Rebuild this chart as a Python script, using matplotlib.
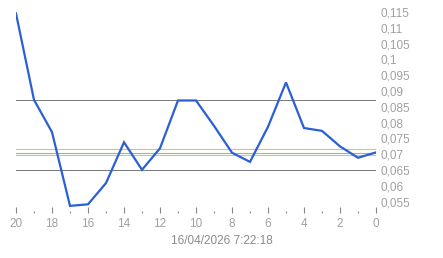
import numpy as np
import matplotlib
matplotlib.use("Agg")
import matplotlib.pyplot as plt
from matplotlib.ticker import MultipleLocator, FuncFormatter


# periods back (20 -> 0) and the price
periods = list(range(20, -1, -1))
values = [0.1145, 0.0872, 0.0770, 0.0537, 0.0542, 0.0609, 0.0738, 0.0651,
          0.0719, 0.0870, 0.0870, 0.0790, 0.0705, 0.0676, 0.0787, 0.0927,
          0.0783, 0.0774, 0.0725, 0.0689, 0.0706]

# reference lines
gray_levels = [0.0872, 0.065]
color_levels = [0.0717, 0.0705, 0.0698]
color_list = ["#dccc38", "#8cc86a", "#a8d890"]

y_ticks = [0.055, 0.06, 0.065, 0.07, 0.075, 0.08, 0.085, 0.09, 0.095,
           0.1, 0.105, 0.11, 0.115]
stamp = "16/04/2026 7:22:18"

txt = "#a0a0a0"
plt.rcParams["font.family"] = ["Liberation Sans", "DejaVu Sans"]


def comma_fmt(v, pos):
    s = ("%.3f" % v).rstrip("0").rstrip(".")
    return s.replace(".", ",")


def main():
    fig = plt.figure(figsize=(4.43, 2.58), dpi=100)
    # plot area: x=16..376 px, y=0..213 px
    ax = fig.add_axes([16 / 443, 1 - 213 / 258, 360 / 443, 213 / 258])

    for lvl, c in zip(color_levels, color_list):
        ax.axhline(lvl, color=c, lw=0.8, zorder=1, snap=True)
    for lvl in gray_levels:
        ax.axhline(lvl, color="#7a7a7a", lw=0.72, zorder=2, snap=True)

    ax.plot(periods, values, color="#2a5fd6", lw=1.6, zorder=3,
            solid_joinstyle="miter")

    ax.set_xlim(20, 0)
    ax.set_ylim(0.05145, 0.11875)

    for s in ax.spines.values():
        s.set_visible(False)

    ax.xaxis.set_major_locator(MultipleLocator(2))
    ax.xaxis.set_minor_locator(MultipleLocator(1))
    ax.tick_params(axis="x", which="major", length=4, width=0.8, color="#888888",
                   labelsize=8.5, labelcolor=txt, pad=3.5, direction="in")
    ax.tick_params(axis="x", which="minor", length=1.5, width=0.8, color="#888888",
                   direction="in")

    ax.yaxis.tick_right()
    ax.set_yticks(y_ticks)
    ax.yaxis.set_major_formatter(FuncFormatter(comma_fmt))
    ax.tick_params(axis="y", length=0, labelsize=8.5, labelcolor=txt, pad=3)
    for lab in ax.get_yticklabels():
        lab.set_horizontalalignment("left")

    # the time stamp is centred on the whole image, not the plot area
    fig.text(0.5, 1 - 241 / 258, stamp, ha="center", va="center",
             fontsize=8.5, color="#8a8a8a")

    fig.savefig("out.png", dpi=100)


if __name__ == "__main__":
    main()
